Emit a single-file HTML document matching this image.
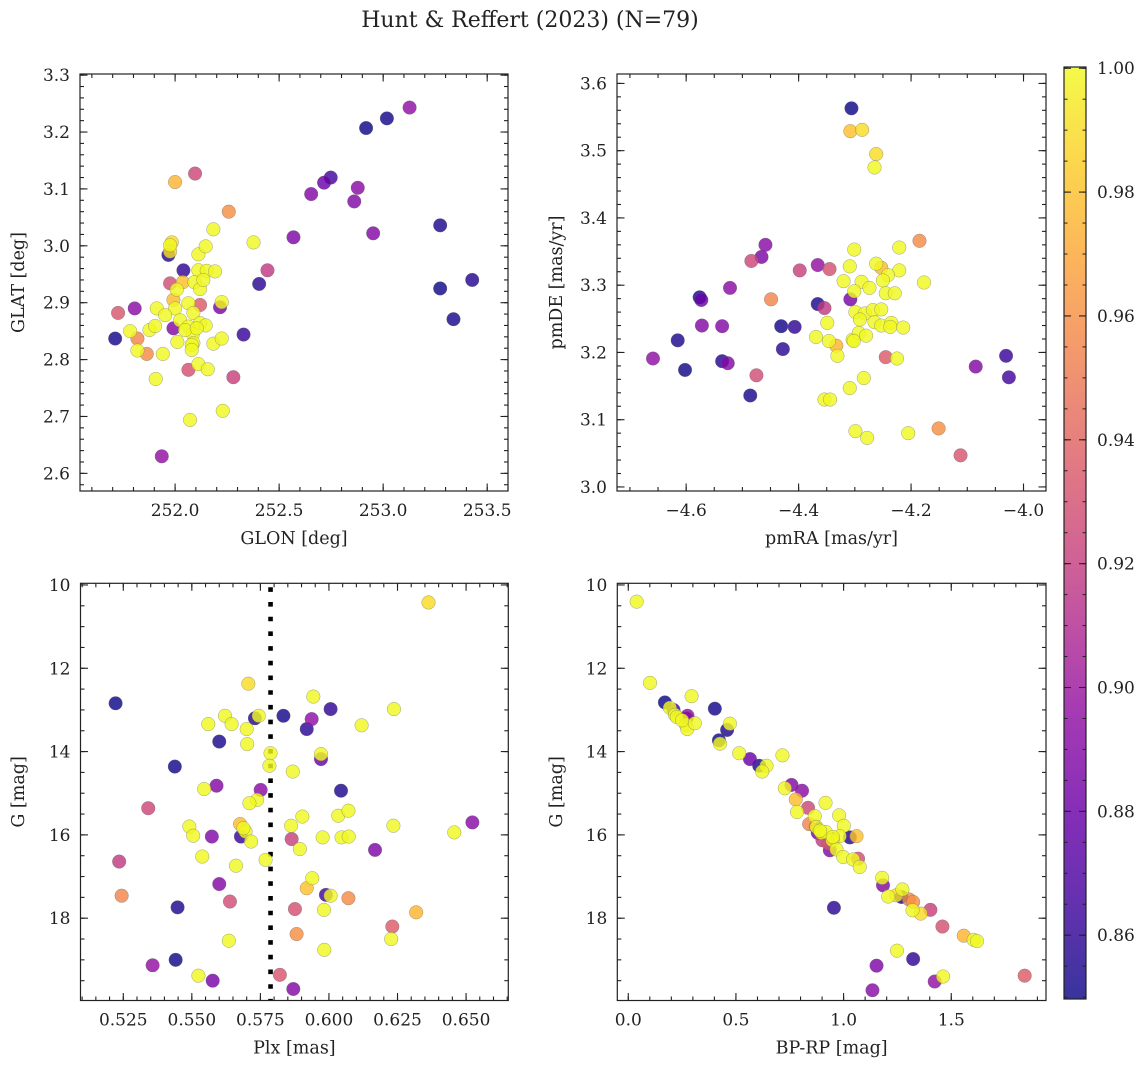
<!DOCTYPE html>
<html><head><meta charset="utf-8"><style>
body{margin:0;background:#fff;}
svg text{font-family:"DejaVu Serif","Liberation Serif",serif;fill:#222;}
</style></head><body>
<svg id="fig" width="1148" height="1067" viewBox="0 0 1148 1067" xmlns="http://www.w3.org/2000/svg">
<rect width="1148" height="1067" fill="#fff"/>
<text x="530" y="27" text-anchor="middle" font-size="22">Hunt &amp; Reffert (2023) (N=79)</text>
</svg>
<script>
const prob=[0.850,0.852,0.855,0.851,0.853,0.856,0.852,0.858,0.860,0.854,0.862,0.865,
0.895,0.880,0.890,0.893,0.889,0.890,0.887,0.892,0.896,0.885,0.890,
0.925,0.918,0.928,0.922,0.930,0.935,0.932,
0.955,0.958,0.960,
0.975,0.978,0.980,
0.99,0.99,1,1,1,1,1,1,1,1,1,1,1,1,1,1,1,1,1,1,1,1,1,1,1,1,1,1,1,1,1,1,1,1,1,1,1,1,1,1,1,1,1,1,1];
const glon=[252.918,253.018,253.274,253.274,253.338,253.428,251.712,252.404,252.040,251.968,252.329,252.748,
253.127,252.716,252.654,252.878,252.861,252.952,252.569,251.806,251.936,252.216,251.992,
252.096,252.444,251.976,252.280,252.064,252.120,251.726,
251.819,251.864,252.258,
252.000,251.992,252.037,
251.984,251.976,252.112,252.147,252.184,252.377,252.112,252.152,252.192,252.093,252.120,252.064,252.000,251.912,251.952,252.224,251.784,251.819,251.877,251.904,252.024,252.088,252.064,252.120,252.147,252.085,252.088,252.011,252.080,252.184,252.224,251.941,251.907,252.112,252.157,252.072,252.229,251.976,252.048,252.104,252.008,252.136,252.080];
const glat=[3.207,3.224,3.036,2.925,2.871,2.940,2.837,2.933,2.957,2.984,2.844,3.120,
3.243,3.111,3.091,3.102,3.078,3.022,3.015,2.890,2.630,2.892,2.855,
3.127,2.957,2.934,2.769,2.782,2.896,2.882,
2.837,2.810,3.060,
3.112,2.905,2.936,
3.006,2.990,2.985,2.999,3.029,3.006,2.957,2.956,2.955,2.936,2.924,2.899,2.890,2.890,2.878,2.901,2.850,2.816,2.852,2.859,2.869,2.882,2.858,2.864,2.860,2.845,2.829,2.831,2.826,2.828,2.837,2.810,2.766,2.792,2.783,2.694,2.710,3.001,2.852,2.855,2.923,2.940,2.817];
const pmra=[-4.306,-4.576,-4.615,-4.602,-4.486,-4.536,-4.431,-4.428,-4.407,-4.366,-4.031,-4.026,
-4.659,-4.573,-4.572,-4.522,-4.536,-4.526,-4.466,-4.459,-4.366,-4.308,-4.085,
-4.484,-4.354,-4.475,-4.398,-4.345,-4.245,-4.112,
-4.449,-4.185,-4.151,
-4.333,-4.253,-4.308,
-4.287,-4.262,-4.265,-4.301,-4.221,-4.309,-4.262,-4.221,-4.241,-4.320,-4.288,-4.250,-4.274,-4.177,-4.301,-4.245,-4.229,-4.299,-4.282,-4.268,-4.253,-4.291,-4.265,-4.253,-4.235,-4.237,-4.214,-4.349,-4.369,-4.346,-4.331,-4.304,-4.293,-4.280,-4.225,-4.284,-4.309,-4.354,-4.344,-4.299,-4.278,-4.205,-4.302];
const pmde=[3.563,3.282,3.218,3.174,3.136,3.187,3.239,3.205,3.238,3.272,3.195,3.163,
3.191,3.278,3.240,3.296,3.239,3.184,3.342,3.360,3.330,3.279,3.179,
3.336,3.266,3.166,3.322,3.324,3.193,3.047,
3.279,3.366,3.087,
3.210,3.326,3.529,
3.531,3.495,3.475,3.353,3.356,3.328,3.332,3.322,3.315,3.306,3.305,3.307,3.296,3.304,3.291,3.288,3.288,3.260,3.258,3.263,3.264,3.249,3.245,3.240,3.244,3.238,3.237,3.244,3.223,3.217,3.195,3.219,3.229,3.225,3.191,3.162,3.147,3.130,3.130,3.083,3.073,3.080,3.217];
const plx=[0.5222,0.5438,0.5448,0.5441,0.5600,0.5730,0.5834,0.5919,0.6006,0.6044,0.5679,0.5989,
0.5937,0.5971,0.5590,0.5751,0.5573,0.5600,0.6168,0.6523,0.5357,0.5576,0.5870,
0.5341,0.5235,0.5639,0.5864,0.5876,0.6231,0.5821,
0.5244,0.6071,0.5882,
0.6318,0.5676,0.5919,
0.6363,0.5706,0.5943,0.6237,0.5621,0.5560,0.5645,0.6119,0.5700,0.5702,0.5744,0.5787,0.5783,0.5971,0.5868,0.5545,0.5738,0.5710,0.5903,0.6034,0.6071,0.5862,0.6235,0.5491,0.5505,0.5696,0.5716,0.5977,0.6046,0.6072,0.5894,0.5538,0.5661,0.5769,0.6457,0.5939,0.6006,0.5982,0.6227,0.5635,0.5983,0.5524,0.5688];
const gPlx=[12.84,14.36,17.74,19.00,13.76,13.20,13.14,13.46,12.98,14.94,16.04,17.44,
13.22,14.18,14.82,14.92,16.04,17.18,16.36,15.70,19.13,19.50,19.70,
15.36,16.64,17.60,16.10,17.78,18.20,19.36,
17.46,17.52,18.38,
17.86,15.74,17.28,
10.42,12.37,12.68,12.98,13.14,13.34,13.34,13.37,13.46,13.82,13.14,14.04,14.34,14.06,14.48,14.90,15.16,15.24,15.56,15.54,15.42,15.78,15.78,15.80,16.02,15.92,16.16,16.06,16.06,16.04,16.34,16.52,16.74,16.60,15.94,17.04,17.46,17.80,18.50,18.54,18.76,19.38,15.84];
const bprp=[0.170,0.402,0.459,0.421,0.608,1.029,1.269,0.955,1.323,0.870,0.950,0.210,
0.275,0.565,0.758,0.807,0.936,1.183,1.153,1.134,1.423,0.880,0.270,
0.835,0.902,1.067,1.403,1.459,1.841,0.930,
0.840,1.304,1.323,
1.558,0.778,1.060,
1.245,1.358,0.039,0.101,0.294,0.193,0.217,0.225,0.268,0.274,0.309,0.472,0.426,0.515,0.642,0.622,0.716,0.727,0.784,0.916,0.866,0.874,0.897,0.917,0.979,1.001,0.982,0.948,0.967,0.998,1.044,1.075,1.179,1.207,1.273,1.320,1.604,1.620,1.248,1.462,0.890,0.950,0.250];
const gCmd=[12.82,12.97,13.48,13.73,14.34,16.06,17.49,17.75,18.98,15.80,16.10,13.00,
13.14,14.18,14.80,14.94,16.37,17.21,19.14,19.73,19.52,15.95,13.20,
15.35,16.13,16.57,17.80,18.20,19.38,16.20,
15.74,17.55,17.61,
18.42,15.15,16.03,
17.45,17.89,10.40,12.35,12.67,12.95,13.12,13.17,13.36,13.46,13.32,13.33,13.81,14.04,14.34,14.48,14.09,14.88,15.45,15.23,15.55,15.81,15.95,15.93,15.53,15.78,16.03,16.13,16.35,16.53,16.59,16.77,17.03,17.48,17.31,17.81,18.52,18.55,18.78,19.40,15.90,16.05,13.25];
const plxRef=0.5787;
const cbTicks=[0.86,0.88,0.90,0.92,0.94,0.96,0.98,1.00];

const NS="http://www.w3.org/2000/svg";
const svg=document.getElementById('fig');
function mk(tag,attrs,parent){const e=document.createElementNS(NS,tag);for(const k in attrs)e.setAttribute(k,attrs[k]);(parent||svg).appendChild(e);return e;}
const stops=[[0,13,8,135],[0.1,65,4,157],[0.2,106,0,168],[0.3,143,13,164],[0.4,177,42,144],[0.5,204,71,120],[0.6,225,100,98],[0.7,242,132,75],[0.8,252,166,54],[0.9,252,206,37],[1,240,249,33]];
const cMin=0.8497,cMax=1.0002;
function plasma(v){let t=(v-cMin)/(cMax-cMin);t=Math.max(0,Math.min(1,t));
 for(let i=1;i<stops.length;i++){if(t<=stops[i][0]){const a=stops[i-1],b=stops[i];const f=(t-a[0])/(b[0]-a[0]);
 return `rgb(${Math.round(a[1]+f*(b[1]-a[1]))},${Math.round(a[2]+f*(b[2]-a[2]))},${Math.round(a[3]+f*(b[3]-a[3]))})`;}}
 return 'rgb(240,249,33)';}
function fmt(v,d){const s=Math.abs(v).toFixed(d);return (v<-1e-9?'\u2212':'')+s;}
function ticksFor(min,max,step){const out=[];const s=Math.ceil(min/step-1e-6),e=Math.floor(max/step+1e-6);for(let i=s;i<=e;i++)out.push(+(i*step).toFixed(6));return out;}

function panel(p){
 const g=mk('g',{});
 
 
 const sx=v=>p.L+(v-p.x0)/(p.x1-p.x0)*(p.R-p.L);
 const sy=p.inv?(v=>p.T+(v-p.y0)/(p.y1-p.y0)*(p.B-p.T)):(v=>p.B-(v-p.y0)/(p.y1-p.y0)*(p.B-p.T));
 const clipId='c'+p.name;
 const cp=mk('clipPath',{id:clipId},g);mk('rect',{x:p.L,y:p.T,width:p.R-p.L,height:p.B-p.T},cp);
 if(p.vline!==undefined){const l=mk('line',{x1:sx(p.vline),x2:sx(p.vline),y1:p.T,y2:p.B,stroke:'#000','stroke-width':4.6,'stroke-dasharray':'4.6 10.1','stroke-dashoffset':'-4'},g);
  
  }
 const pts=mk('g',{'clip-path':`url(#${clipId})`},g);
 
 
 for(let i=0;i<p.xs.length;i++){
  const c=mk('circle',{cx:sx(p.xs[i]),cy:sy(p.ys[i]),r:6.8,fill:plasma(prob[i]),'fill-opacity':0.82,stroke:'#666','stroke-width':0.5,'stroke-opacity':0.6},pts);
  
  
 }
 const tk=mk('g',{stroke:'#222','stroke-width':1.1},g);
 ticksFor(p.x0,p.x1,p.xminor).forEach(v=>{const x=sx(v);mk('line',{x1:x,x2:x,y1:p.B,y2:p.B-4},tk);mk('line',{x1:x,x2:x,y1:p.T,y2:p.T+4},tk);});
 ticksFor(p.y0,p.y1,p.yminor).forEach(v=>{const y=sy(v);mk('line',{x1:p.L,x2:p.L+4,y1:y,y2:y},tk);mk('line',{x1:p.R,x2:p.R-4,y1:y,y2:y},tk);});
 ticksFor(p.x0,p.x1,p.xmajor).forEach(v=>{const x=sx(v);mk('line',{x1:x,x2:x,y1:p.B,y2:p.B-7.5},tk);mk('line',{x1:x,x2:x,y1:p.T,y2:p.T+7.5},tk);
  const t=mk('text',{x:x,y:p.B+25,'text-anchor':'middle','font-size':17},g);t.textContent=fmt(v,p.xd);
  
  });
 ticksFor(p.y0,p.y1,p.ymajor).forEach(v=>{const y=sy(v);mk('line',{x1:p.L,x2:p.L+7.5,y1:y,y2:y},tk);mk('line',{x1:p.R,x2:p.R-7.5,y1:y,y2:y},tk);
  const t=mk('text',{x:p.L-10,y:y+6,'text-anchor':'end','font-size':17},g);t.textContent=fmt(v,p.yd);
  
  });
 const fr=mk('rect',{x:p.L,y:p.T,width:p.R-p.L,height:p.B-p.T,fill:'none',stroke:'#222','stroke-width':1.2},g);
 
 
 const xl=mk('text',{x:(p.L+p.R)/2,y:p.B+53,'text-anchor':'middle','font-size':17.5},g);xl.textContent=p.xlabel;
 
 
 const yx=p.ylx,yy=(p.T+p.B)/2;
 const yl=mk('text',{x:yx,y:yy,'text-anchor':'middle','font-size':17.5,transform:`rotate(-90 ${yx} ${yy})`},g);yl.textContent=p.ylabel;
 
 
}
panel({name:'glon-glat-panel',L:80,R:508,T:74,B:491,x0:251.543,x1:253.60,y0:2.569,y1:3.302,xs:glon,ys:glat,xmajor:0.5,xminor:0.1,ymajor:0.1,yminor:0.02,xd:1,yd:1,xlabel:'GLON [deg]',ylabel:'GLAT [deg]',ylx:24});
panel({name:'proper-motion-panel',L:617,R:1046,T:74,B:491,x0:-4.723,x1:-3.960,y0:2.994,y1:3.614,xs:pmra,ys:pmde,xmajor:0.2,xminor:0.05,ymajor:0.1,yminor:0.02,xd:1,yd:1,xlabel:'pmRA [mas/yr]',ylabel:'pmDE [mas/yr]',ylx:562});
panel({name:'parallax-magnitude-panel',L:80.5,R:508.3,T:583.3,B:1000.5,x0:0.5094,x1:0.6654,y0:9.96,y1:19.976,inv:true,xs:plx,ys:gPlx,xmajor:0.025,xminor:0.005,ymajor:2,yminor:0.5,xd:3,yd:0,xlabel:'Plx [mas]',ylabel:'G [mag]',ylx:24,vline:plxRef});
panel({name:'color-magnitude-panel',L:617.3,R:1046,T:583.3,B:1000.5,x0:-0.051,x1:1.940,y0:9.96,y1:19.976,inv:true,xs:bprp,ys:gCmd,xmajor:0.5,xminor:0.1,ymajor:2,yminor:0.5,xd:1,yd:0,xlabel:'BP-RP [mag]',ylabel:'G [mag]',ylx:562});

const cb=mk('g',{});


const CL=1064,CR=1086,CT=67,CB=999;
const defs=mk('defs',{},cb);
const lg=mk('linearGradient',{id:'cbg',x1:0,y1:1,x2:0,y2:0},defs);
for(let i=0;i<=20;i++){const v=cMin+(cMax-cMin)*i/20;mk('stop',{offset:i/20,'stop-color':plasma(v),'stop-opacity':0.82},lg);}
mk('rect',{x:CL,y:CT,width:CR-CL,height:CB-CT,fill:'url(#cbg)'},cb);
const cy=v=>CB-(v-cMin)/(cMax-cMin)*(CB-CT);
ticksFor(cMin,cMax,0.005).forEach(v=>{const y=cy(v);mk('line',{x1:CR,x2:CR-3.5,y1:y,y2:y,stroke:'#222','stroke-width':1},cb);mk('line',{x1:CL,x2:CL+3.5,y1:y,y2:y,stroke:'#222','stroke-width':1},cb);});
cbTicks.forEach(v=>{const y=cy(v);mk('line',{x1:CR,x2:CR-7,y1:y,y2:y,stroke:'#222','stroke-width':1.1},cb);mk('line',{x1:CL,x2:CL+7,y1:y,y2:y,stroke:'#222','stroke-width':1.1},cb);
 const t=mk('text',{x:CR+11,y:y+6,'font-size':17},cb);t.textContent=v.toFixed(2);
 
 });
mk('rect',{x:CL,y:CT,width:CR-CL,height:CB-CT,fill:'none',stroke:'#222','stroke-width':1.2},cb);
</script>
</body></html>
